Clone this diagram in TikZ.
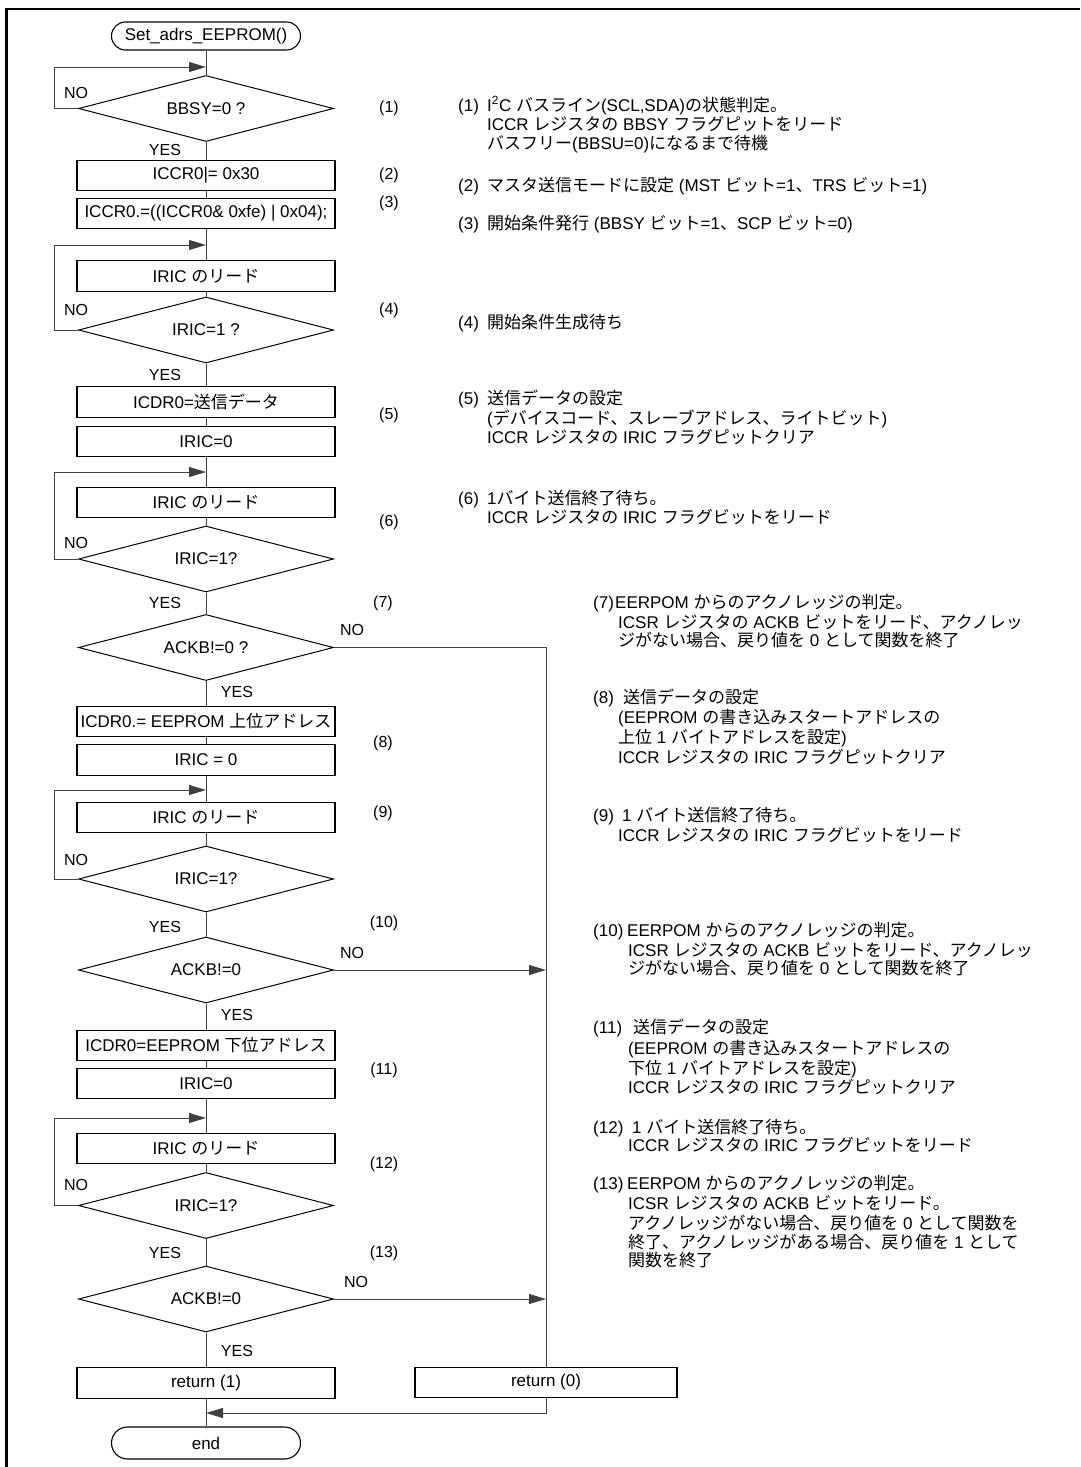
\documentclass[tikz,border=0pt]{standalone}
\usepackage{fontspec}
\usetikzlibrary{shapes.geometric,arrows.meta}
\setmainfont{Liberation Sans}
\newfontfamily\cjkfont{Noto Sans CJK JP}
\newfontfamily\latfont{Liberation Sans}
\newcount\jpcnt
\newXeTeXintercharclass\jpclass
\jpcnt="3000 \loop \XeTeXcharclass\jpcnt=\jpclass \ifnum\jpcnt<"30FF \advance\jpcnt by 1 \repeat
\jpcnt="4E00 \loop \XeTeXcharclass\jpcnt=\jpclass \ifnum\jpcnt<"9FFF \advance\jpcnt by 1 \repeat
\jpcnt="FF01 \loop \XeTeXcharclass\jpcnt=\jpclass \ifnum\jpcnt<"FF60 \advance\jpcnt by 1 \repeat
\XeTeXinterchartoks 0 \jpclass = {\cjkfont}
\XeTeXinterchartoks 4095 \jpclass = {\cjkfont}
\XeTeXinterchartoks \jpclass 0 = {\latfont}
\XeTeXinterchartoks \jpclass 4095 = {\latfont}
\XeTeXinterchartokenstate=1
\begin{document}
\begin{tikzpicture}[x=1pt,y=-1pt,
  ln/.style={line width=0.9pt, draw=black!75},
  arr/.style={ln, -{Triangle[length=17pt,width=10pt]}},
  box/.style={draw, line width=1.1pt, rectangle, minimum width=258pt, minimum height=30.5pt, inner sep=0pt, font=\fontsize{17}{19}\selectfont},
  dia/.style={draw, line width=1pt, diamond, aspect=3.86, minimum width=255pt, minimum height=66pt, inner sep=0pt, font=\fontsize{17}{19}\selectfont},
  term/.style={draw, line width=1.1pt, rectangle, rounded corners=14pt, minimum width=189pt, minimum height=28pt, inner sep=0pt, font=\fontsize{17}{19}\selectfont},
  lbl/.style={inner sep=0pt, font=\fontsize{16}{18}\selectfont},
  note/.style={anchor=base west, inner sep=0pt, font=\fontsize{17}{19}\selectfont}]
\useasboundingbox (0,0) rectangle (1080,1467);
% frame
\draw[line width=2.6pt] (6.3,1467) -- (6.3,9) -- (1080,9);

% flowchart nodes
\node[term] (start) at (206,36) {Set\_adrs\_EEPROM()};
\node[dia] (d1) at (206,108.5) {BBSY=0 ?};
\node[box] (b2) at (206,175.5) {ICCR0|= 0x30};
\node[box] (b3) at (206,213.5) {ICCR0.=((ICCR0\& 0xfe) | 0x04);};
\node[box] (b4) at (206,276) {IRIC のリード};
\node[dia] (d4) at (206,330) {IRIC=1 ?};
\node[box] (b5a) at (206,402) {ICDR0=送信データ};
\node[box] (b5b) at (206,441.5) {IRIC=0};
\node[box] (b6) at (206,502.5) {IRIC のリード};
\node[dia] (d6) at (206,559) {IRIC=1?};
\node[dia] (d7) at (206,647.5) {ACKB!=0 ?};
\node[box] (b8a) at (206,721.5) {ICDR0.= EEPROM 上位アドレス};
\node[box] (b8b) at (206,760) {IRIC = 0};
\node[box] (b9) at (206,817.5) {IRIC のリード};
\node[dia] (d9) at (206,879) {IRIC=1?};
\node[dia] (d10) at (206,970) {ACKB!=0};
\node[box] (b11a) at (206,1045.5) {ICDR0=EEPROM 下位アドレス};
\node[box] (b11b) at (206,1083.5) {IRIC=0};
\node[box] (b12) at (206,1148.5) {IRIC のリード};
\node[dia] (d12) at (206,1205.5) {IRIC=1?};
\node[dia] (d13) at (206,1299) {ACKB!=0};
\node[box] (r1) at (206,1383) {return (1)};
\node[box, minimum width=262pt] (r0) at (546,1382.5) {return (0)};
\node[term, rounded corners=16pt, minimum height=32pt] (end) at (206,1443) {end};

% junction coordinates
\coordinate (j1) at (206,67);   \coordinate (l1) at (54,108.5);
\coordinate (j4) at (206,245);  \coordinate (l4) at (54,330);
\coordinate (j6) at (206,472);  \coordinate (l6) at (54,559);
\coordinate (j9) at (206,790);  \coordinate (l9) at (54,879);
\coordinate (j12) at (206,1118); \coordinate (l12) at (54,1205.5);
\coordinate (k7) at (546,647.5);
\coordinate (k10) at (546,970);
\coordinate (k13) at (546,1299);
\coordinate (kj) at (206,1413);

% main line
\draw[ln] (start) -- (d1);
\draw[ln] (d1) -- (b2);
\draw[ln] (b2) -- (b3);
\draw[ln] (b3) -- (b4);
\draw[ln] (b4) -- (d4);
\draw[ln] (d4) -- (b5a);
\draw[ln] (b5a) -- (b5b);
\draw[ln] (b5b) -- (b6);
\draw[ln] (b6) -- (d6);
\draw[ln] (d6) -- (d7);
\draw[ln] (d7) -- (b8a);
\draw[ln] (b8a) -- (b8b);
\draw[ln] (b8b) -- (b9);
\draw[ln] (b9) -- (d9);
\draw[ln] (d9) -- (d10);
\draw[ln] (d10) -- (b11a);
\draw[ln] (b11a) -- (b11b);
\draw[ln] (b11b) -- (b12);
\draw[ln] (b12) -- (d12);
\draw[ln] (d12) -- (d13);
\draw[ln] (d13) -- (r1);
\draw[ln] (r1) -- (end);

% loops
\draw[arr] (d1.west) -- (l1) |- (j1);
\draw[arr] (d4.west) -- (l4) |- (j4);
\draw[arr] (d6.west) -- (l6) |- (j6);
\draw[arr] (d9.west) -- (l9) |- (j9);
\draw[arr] (d12.west) -- (l12) |- (j12);

% NO branches to return(0)
\draw[ln] (d7.east) -- (k7) -- (r0.north);
\draw[arr] (d10.east) -- (k10);
\draw[arr] (d13.east) -- (k13);
\draw[arr] (r0.south) |- (kj);

% YES / NO labels
\node[lbl] (no1) at (76,93) {NO};
\node[lbl] (no4) at (76,310) {NO};
\node[lbl] (no6) at (76,543) {NO};
\node[lbl] (no9) at (76,860) {NO};
\node[lbl] (no12) at (76,1185) {NO};
\node[lbl] (ye1) at (165,150) {YES};
\node[lbl] (ye4) at (165,375) {YES};
\node[lbl] (ye6) at (165,603) {YES};
\node[lbl] (ye9) at (165,927) {YES};
\node[lbl] (ye12) at (165,1253) {YES};
\node[lbl] (ye7) at (237,692) {YES};
\node[lbl] (ye10) at (237,1015) {YES};
\node[lbl] (ye13) at (237,1351) {YES};
\node[lbl] (no7) at (352,630) {NO};
\node[lbl] (no10) at (352,953) {NO};
\node[lbl] (no13) at (356,1282) {NO};

% step numbers near flowchart
\node[lbl] (s1) at (389,108) {(1)};
\node[lbl] (s2) at (389,175) {(2)};
\node[lbl] (s3) at (389,203) {(3)};
\node[lbl] (s4) at (389,310) {(4)};
\node[lbl] (s5) at (389,415) {(5)};
\node[lbl] (s6) at (389,522) {(6)};
\node[lbl] (s7) at (383,603) {(7)};
\node[lbl] (s8) at (383,743) {(8)};
\node[lbl] (s9) at (383,813) {(9)};
\node[lbl] (s10) at (384,923) {(10)};
\node[lbl] (s11) at (384,1070) {(11)};
\node[lbl] (s12) at (384,1164) {(12)};
\node[lbl] (s13) at (384,1253) {(13)};

% descriptions
\node[note] (n1) at (458,111) {(1)};
\node[note] (n1a) at (487,111) {I\textsuperscript{2}C バスライン(SCL,SDA)の状態判定。};
\node[note] (n1b) at (487,130) {ICCR レジスタの BBSY フラグピットをリード};
\node[note] (n1c) at (487,149) {バスフリー(BBSU=0)になるまで待機};
\node[note] (n2) at (458,191) {(2)};
\node[note] (n2a) at (487,191) {マスタ送信モードに設定 (MST ビット=1、TRS ビット=1)};
\node[note] (n3) at (458,229) {(3)};
\node[note] (n3a) at (487,229) {開始条件発行 (BBSY ビット=1、SCP ビット=0)};
\node[note] (n4) at (458,328) {(4)};
\node[note] (n4a) at (487,328) {開始条件生成待ち};
\node[note] (n5) at (458,404) {(5)};
\node[note] (n5a) at (487,404) {送信データの設定};
\node[note] (n5b) at (487,424) {(デバイスコード、スレーブアドレス、ライトビット)};
\node[note] (n5c) at (487,443) {ICCR レジスタの IRIC フラグピットクリア};
\node[note] (n6) at (458,504) {(6)};
\node[note] (n6a) at (487,504) {1バイト送信終了待ち。};
\node[note] (n6b) at (487,523) {ICCR レジスタの IRIC フラグビットをリード};
\node[note] (n7) at (593,608) {(7)};
\node[note] (n7a) at (615,608) {EERPOM からのアクノレッジの判定。};
\node[note] (n7b) at (618,628) {ICSR レジスタの ACKB ビットをリード、アクノレッ};
\node[note] (n7c) at (618,646) {ジがない場合、戻り値を 0 として関数を終了};
\node[note] (n8) at (593,703) {(8)};
\node[note] (n8a) at (623,703) {送信データの設定};
\node[note] (n8b) at (618,723) {(EEPROM の書き込みスタートアドレスの};
\node[note] (n8c) at (618,743) {上位 1 バイトアドレスを設定)};
\node[note] (n8d) at (618,763) {ICCR レジスタの IRIC フラグピットクリア};
\node[note] (n9) at (593,821) {(9)};
\node[note] (n9a) at (622,821) {1 バイト送信終了待ち。};
\node[note] (n9b) at (618,841) {ICCR レジスタの IRIC フラグビットをリード};
\node[note] (n10) at (593,936) {(10)};
\node[note] (n10a) at (627,936) {EERPOM からのアクノレッジの判定。};
\node[note] (n10b) at (628,956) {ICSR レジスタの ACKB ビットをリード、アクノレッ};
\node[note] (n10c) at (628,974) {ジがない場合、戻り値を 0 として関数を終了};
\node[note] (n11) at (593,1033) {(11)};
\node[note] (n11a) at (633,1033) {送信データの設定};
\node[note] (n11b) at (628,1054) {(EEPROM の書き込みスタートアドレスの};
\node[note] (n11c) at (628,1074) {下位 1 バイトアドレスを設定)};
\node[note] (n11d) at (628,1093) {ICCR レジスタの IRIC フラグピットクリア};
\node[note] (n12) at (593,1133) {(12)};
\node[note] (n12a) at (632,1133) {1 バイト送信終了待ち。};
\node[note] (n12b) at (628,1151) {ICCR レジスタの IRIC フラグビットをリード};
\node[note] (n13) at (593,1189) {(13)};
\node[note] (n13a) at (627,1189) {EERPOM からのアクノレッジの判定。};
\node[note] (n13b) at (628,1209) {ICSR レジスタの ACKB ビットをリード。};
\node[note] (n13c) at (628,1229) {アクノレッジがない場合、戻り値を 0 として関数を};
\node[note] (n13d) at (628,1248) {終了、アクノレッジがある場合、戻り値を 1 として};
\node[note] (n13e) at (628,1266) {関数を終了};
\end{tikzpicture}
\end{document}
